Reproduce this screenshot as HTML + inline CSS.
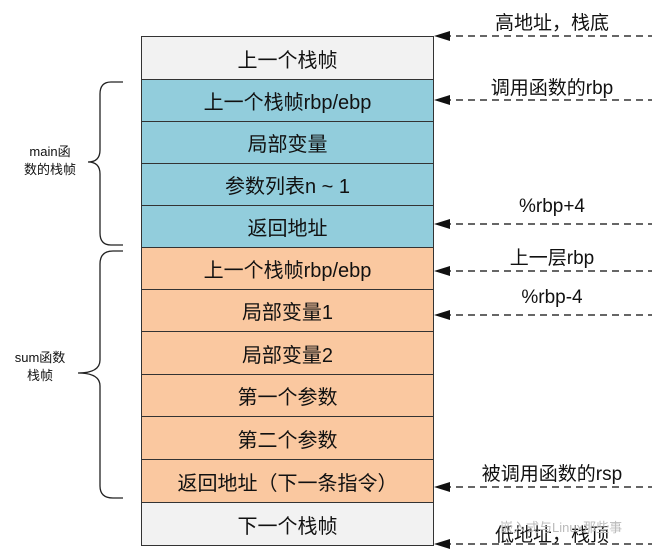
<!DOCTYPE html>
<html><head><meta charset="utf-8"><style>
body{margin:0;width:652px;height:555px;background:#fff;position:relative;overflow:hidden;font-family:"Liberation Sans","Noto Sans CJK SC",sans-serif;}
.r{position:absolute;left:141px;width:293px;box-sizing:border-box;border:1px solid #333;text-align:center;font-size:20px;color:#111;display:flex;align-items:center;justify-content:center;}
.l{position:absolute;font-size:19px;color:#111;text-align:center;width:200px;left:452px;}
.s{position:absolute;font-size:13px;color:#111;text-align:center;line-height:18px;}
</style></head><body>
<div class="r" style="top:36px;height:44px;background:#f2f2f2">上一个栈帧</div>
<div class="r" style="top:79px;height:43px;background:#92cddc">上一个栈帧rbp/ebp</div>
<div class="r" style="top:121px;height:43px;background:#92cddc">局部变量</div>
<div class="r" style="top:163px;height:43px;background:#92cddc">参数列表n ~ 1</div>
<div class="r" style="top:205px;height:43px;background:#92cddc">返回地址</div>
<div class="r" style="top:247px;height:43px;background:#fac8a0">上一个栈帧rbp/ebp</div>
<div class="r" style="top:289px;height:43px;background:#fac8a0">局部变量1</div>
<div class="r" style="top:331px;height:44px;background:#fac8a0">局部变量2</div>
<div class="r" style="top:374px;height:43px;background:#fac8a0">第一个参数</div>
<div class="r" style="top:416px;height:44px;background:#fac8a0">第二个参数</div>
<div class="r" style="top:459px;height:44px;background:#fac8a0">返回地址（下一条指令）</div>
<div class="r" style="top:502px;height:44px;background:#f2f2f2">下一个栈帧</div>
<svg width="652" height="555" style="position:absolute;left:0;top:0">
<g stroke="#333" stroke-width="1.5" stroke-dasharray="7,5" fill="none">
<line x1="444" y1="36" x2="652" y2="36"/><line x1="444" y1="100" x2="652" y2="100"/>
<line x1="444" y1="224" x2="652" y2="224"/><line x1="444" y1="271" x2="652" y2="271"/>
<line x1="444" y1="315" x2="652" y2="315"/><line x1="444" y1="487" x2="652" y2="487"/>
<line x1="444" y1="544" x2="652" y2="544"/></g>
<g fill="#111">
<polygon points="434,36 450,31 450,41"/><polygon points="434,100 450,95 450,105"/>
<polygon points="434,224 450,219 450,229"/><polygon points="434,271 450,266 450,276"/>
<polygon points="434,315 450,310 450,320"/><polygon points="434,487 450,482 450,492"/>
<polygon points="434,544 450,539 450,549"/></g>
<g stroke="#222" stroke-width="1.3" fill="none">
<path d="M123,82 H111 Q100,82 100,94 V150 Q100,162 88,162 Q100,162 100,174 V233 Q100,245 111,245 H123"/>
<path d="M123,251 H113 Q100,251 100,264 V360 Q100,373 78,373 Q100,373 100,386 V486 Q100,498 113,498 H123"/>
</g></svg>
<div class="l" style="top:8px">高地址，栈底</div>
<div class="l" style="top:73px">调用函数的rbp</div>
<div class="l" style="top:196px">%rbp+4</div>
<div class="l" style="top:243px">上一层rbp</div>
<div class="l" style="top:287px">%rbp-4</div>
<div class="l" style="top:459px">被调用函数的rsp</div>
<div class="l" style="top:520px">低地址，栈顶</div>
<div style="position:absolute;left:500px;top:517px;font-size:13px;color:#bbb">嵌入式与Linux那些事</div>
<div class="s" style="left:10px;width:80px;top:143px">main函<br>数的栈帧</div>
<div class="s" style="left:0px;width:80px;top:349px">sum函数<br>栈帧</div>
</body></html>
